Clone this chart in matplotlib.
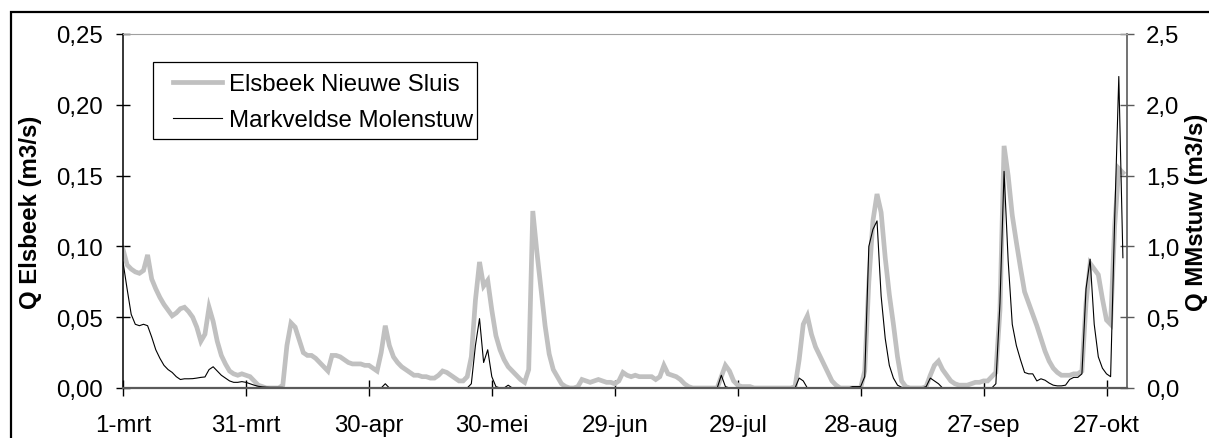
import matplotlib
matplotlib.use("Agg")
import matplotlib.pyplot as plt
from matplotlib.patches import Rectangle
import numpy as np

plt.rcParams["font.family"] = ["Liberation Sans", "DejaVu Sans"]

W, H = 1209, 439

# daily discharge, day 0 = 1 March
elsbeek = np.array([
    0.098, 0.087, 0.084, 0.082, 0.081, 0.083, 0.094, 0.077, 0.070, 0.064,
    0.059, 0.055, 0.051, 0.053, 0.056, 0.057, 0.054, 0.050, 0.043, 0.033,
    0.038, 0.057, 0.047, 0.033, 0.023, 0.017, 0.012, 0.010, 0.009, 0.010,
    0.009, 0.008, 0.005, 0.002, 0.001, 0.000, 0.000, 0.000, 0.000, 0.002,
    0.030, 0.046, 0.043, 0.034, 0.025, 0.023, 0.023, 0.021, 0.018, 0.015,
    0.012, 0.023, 0.023, 0.022, 0.020, 0.018, 0.017, 0.017, 0.017, 0.016,
    0.016, 0.014, 0.012, 0.025, 0.044, 0.030, 0.022, 0.018, 0.015, 0.013,
    0.011, 0.009, 0.009, 0.008, 0.008, 0.007, 0.007, 0.009, 0.012, 0.011,
    0.009, 0.007, 0.005, 0.005, 0.008, 0.022, 0.062, 0.089, 0.072, 0.076,
    0.055, 0.037, 0.027, 0.020, 0.015, 0.012, 0.009, 0.006, 0.004, 0.013,
    0.125, 0.096, 0.070, 0.044, 0.024, 0.013, 0.008, 0.003, 0.001, 0.000,
    0.000, 0.001, 0.006, 0.005, 0.004, 0.005, 0.006, 0.005, 0.004, 0.004,
    0.003, 0.005, 0.011, 0.009, 0.008, 0.009, 0.008, 0.008, 0.008, 0.008,
    0.006, 0.008, 0.016, 0.010, 0.009, 0.008, 0.006, 0.003, 0.001, 0.000,
    0.000, 0.000, 0.000, 0.000, 0.000, 0.000, 0.008, 0.016, 0.012, 0.005,
    0.002, 0.001, 0.001, 0.001, 0.000, 0.000, 0.000, 0.000, 0.000, 0.000,
    0.000, 0.000, 0.000, 0.000, 0.001, 0.020, 0.045, 0.051, 0.038, 0.029,
    0.023, 0.017, 0.011, 0.005, 0.002, 0.000, 0.000, 0.000, 0.000, 0.000,
    0.000, 0.012, 0.075, 0.118, 0.137, 0.124, 0.092, 0.066, 0.045, 0.022,
    0.005, 0.001, 0.000, 0.000, 0.000, 0.000, 0.001, 0.009, 0.016, 0.019,
    0.013, 0.009, 0.005, 0.003, 0.002, 0.002, 0.002, 0.003, 0.004, 0.004,
    0.005, 0.005, 0.008, 0.011, 0.055, 0.171, 0.150, 0.122, 0.103, 0.085,
    0.068, 0.060, 0.052, 0.044, 0.035, 0.026, 0.019, 0.014, 0.011, 0.009,
    0.009, 0.009, 0.010, 0.010, 0.012, 0.060, 0.088, 0.084, 0.080, 0.063,
    0.048, 0.045, 0.115, 0.155, 0.152,
])

mmstuw = np.array([
    0.89, 0.70, 0.52, 0.45, 0.44, 0.45, 0.44, 0.36, 0.27, 0.21,
    0.16, 0.13, 0.11, 0.08, 0.06, 0.065, 0.065, 0.066, 0.07, 0.075,
    0.078, 0.13, 0.15, 0.12, 0.09, 0.07, 0.05, 0.04, 0.04, 0.045,
    0.04, 0.03, 0.02, 0.012, 0.008, 0.006, 0.005, 0.005, 0.005, 0.004,
    0, 0, 0, 0, 0, 0, 0, 0, 0, 0,
    0, 0, 0, 0, 0, 0, 0, 0, 0, 0,
    0, 0, 0, 0, 0.03, 0, 0, 0, 0, 0,
    0, 0, 0, 0, 0, 0, 0, 0, 0, 0,
    0, 0, 0, 0, 0, 0.03, 0.30, 0.49, 0.18, 0.27,
    0.08, 0.01, 0, 0, 0.02, 0, 0, 0, 0, 0,
    0, 0, 0, 0, 0, 0, 0, 0, 0, 0,
    0, 0, 0, 0, 0, 0, 0, 0, 0, 0,
    0, 0, 0, 0, 0, 0, 0, 0, 0, 0,
    0, 0, 0, 0, 0, 0, 0, 0, 0, 0,
    0, 0, 0, 0, 0, 0, 0.09, 0.01, 0, 0,
    0, 0, 0, 0, 0, 0, 0, 0, 0, 0,
    0, 0, 0, 0, 0, 0.07, 0.05, 0, 0, 0,
    0, 0, 0, 0, 0, 0, 0, 0, 0.01, 0.01,
    0.01, 0.08, 1.00, 1.12, 1.18, 0.65, 0.35, 0.16, 0.07, 0.02,
    0.005, 0, 0, 0, 0, 0, 0.01, 0.07, 0.05, 0.03,
    0, 0, 0, 0, 0, 0, 0, 0, 0, 0,
    0, 0, 0, 0.03, 0.60, 1.53, 0.90, 0.45, 0.30, 0.20,
    0.11, 0.10, 0.10, 0.05, 0.065, 0.055, 0.035, 0.02, 0.015, 0.015,
    0.02, 0.06, 0.075, 0.075, 0.10, 0.70, 0.91, 0.45, 0.22, 0.14,
    0.10, 0.08, 1.20, 2.20, 0.92,
])
days = np.arange(len(elsbeek))

x_ticks = [0, 30, 60, 90, 120, 150, 180, 210, 240]
x_labels = ["1-mrt", "31-mrt", "30-apr", "30-mei", "29-jun",
            "29-jul", "28-aug", "27-sep", "27-okt"]
left_ticks = [0.0, 0.05, 0.10, 0.15, 0.20, 0.25]
left_labels = ["0,00", "0,05", "0,10", "0,15", "0,20", "0,25"]
right_ticks = [0.0, 0.5, 1.0, 1.5, 2.0, 2.5]
right_labels = ["0,0", "0,5", "1,0", "1,5", "2,0", "2,5"]

FS = 17.3
GRAY = "#c0c0c0"
AXGRAY = "#5a5a5a"

fig = plt.figure(figsize=(W / 100, H / 100), dpi=100)
ax1 = fig.add_axes([123 / W, 1 - 389 / H, 1004 / W, 354 / H])
ax2 = ax1.twinx()

l1, = ax1.plot(days, elsbeek, color=GRAY, lw=3.4, solid_joinstyle="miter",
               label="Elsbeek Nieuwe Sluis")
l2, = ax2.plot(days, mmstuw, color="black", lw=0.8,
               label="Markveldse Molenstuw")

ax1.set_xlim(0, 245)
ax1.set_ylim(0, 0.25)
ax2.set_ylim(0, 2.5)

ax1.set_xticks(x_ticks, x_labels)
ax1.set_yticks(left_ticks, left_labels)
ax2.set_yticks(right_ticks, right_labels)

ax1.tick_params(axis="y", direction="inout", length=10, width=1,
                color="black", labelsize=FS, pad=9.5)
ax1.tick_params(axis="x", direction="inout", length=11, width=1,
                color="black", labelsize=FS, pad=13)
ax2.tick_params(axis="y", direction="inout", length=9.5, width=1,
                color=AXGRAY, labelsize=FS, pad=9)

for s in ax1.spines.values():
    s.set_visible(False)
ax2.spines["left"].set_color("black")
ax2.spines["left"].set_linewidth(1.1)
ax2.spines["bottom"].set_color(AXGRAY)
ax2.spines["bottom"].set_linewidth(1.6)
ax2.spines["right"].set_color(AXGRAY)
ax2.spines["right"].set_linewidth(1.2)
ax2.spines["top"].set_color("#a0a0a0")
ax2.spines["top"].set_linewidth(0.8)

# axis titles
fig.text(30.5 / W, 1 - 212 / H, "Q Elsbeek (m3/s)", rotation=90,
         ha="center", va="center", fontsize=FS, fontweight="bold")
fig.text(1196 / W, 1 - 212 / H, "Q MMstuw (m3/s)", rotation=90,
         ha="center", va="center", fontsize=FS, fontweight="bold")

# legend with a square box around it
ax2.legend(handles=[l1, l2], loc="upper left",
           bbox_to_anchor=(173 / W, 1 - 74 / H), bbox_transform=fig.transFigure,
           frameon=False, borderpad=0, borderaxespad=0, handlelength=2.05,
           handletextpad=0.3, labelspacing=0.6, fontsize=FS)
ax2.add_patch(Rectangle((153 / W, 1 - 140 / H), 324 / W, 77 / H,
                        transform=fig.transFigure, facecolor="none",
                        edgecolor="black", lw=0.9, clip_on=False, zorder=5))

# chart frame
fig.patches.append(Rectangle((11 / W, -0.2), 1.5, 1.2 - 13 / H,
                             transform=fig.transFigure, facecolor="none",
                             edgecolor="black", lw=1.6))

fig.savefig("out.png", dpi=100, facecolor="white")
plt.close(fig)
